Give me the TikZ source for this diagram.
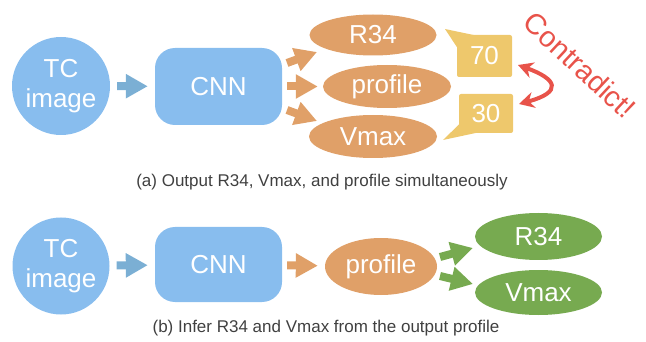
\documentclass[tikz,border=0pt]{standalone}
\usepackage{fontspec}
\setmainfont{Liberation Sans}
\usetikzlibrary{shapes.geometric,arrows.meta,calc}
\definecolor{cblue}{HTML}{88BDEE}
\definecolor{cblueArr}{HTML}{7BAFD4}
\definecolor{corange}{HTML}{E0A068}
\definecolor{cyellow}{HTML}{EEC86C}
\definecolor{cred}{HTML}{E8534A}
\definecolor{cgreen}{HTML}{77AA50}
\definecolor{ccap}{HTML}{404040}
\tikzset{
  big/.style={font=\fontsize{26}{30}\selectfont, text=white},
  tcnode/.style={circle, fill=cblue, minimum size=98pt, inner sep=0pt, big, align=center},
  cnnnode/.style={rectangle, rounded corners=20pt, fill=cblue, minimum width=127pt, minimum height=77pt, inner sep=0pt, big},
  ell/.style={ellipse, inner sep=0pt, big},
  oell/.style={ell, fill=corange},
  gell/.style={ell, fill=cgreen},
  callout/.style={rectangle, rounded corners=2pt, fill=cyellow, inner sep=0pt, big},
  blk/.style={line width=8pt, -{Triangle[length=22pt,width=23pt]}},
  captext/.style={font=\fontsize{17}{20}\selectfont, text=ccap},
}
\begin{document}
\begin{tikzpicture}[x=1pt,y=-1pt]
\useasboundingbox (0,0) rectangle (646,342);
% ---------- (a) ----------
\node[tcnode] (tc1) at (61,86) {TC\\image};
\node[cnnnode] (cnn1) at (218.5,86.5) {CNN};
\node[oell, minimum width=127pt, minimum height=41pt] (r34a) at (373,35) {R34};
\node[oell, minimum width=128pt, minimum height=43pt] (profa) at (387,86.5) {profile};
\node[oell, minimum width=128pt, minimum height=43pt] (vmaxa) at (373,136.5) {Vmax};
\draw[blk, draw=cblueArr, shorten <=7pt, shorten >=7pt] (tc1) -- (cnn1);
\draw[blk, draw=corange, shorten <=5pt, shorten >=5pt] (cnn1) -- (profa);
\coordinate (ua1) at (287,63);
\coordinate (ua2) at (317,52);
\coordinate (la1) at (287,110);
\coordinate (la2) at (317,121);
\draw[blk, draw=corange] (ua1) -- (ua2);
\draw[blk, draw=corange] (la1) -- (la2);
% callouts
\node[callout, minimum width=55pt, minimum height=42pt] (b70) at (484.5,56) {70};
\node[callout, minimum width=54pt, minimum height=39pt] (b30) at (486,113.5) {30};
\fill[cyellow] (445,29) -- (476,35.5) -- (457.5,48) -- cycle;
\fill[cyellow] (443,140) -- (459.5,124) -- (478,132.5) -- cycle;
% contradiction arrow
\coordinate (ra1) at (518,65);
\coordinate (ra2) at (519,104);
\draw[cred, line width=4pt, {Stealth[length=15pt,width=16pt]}-{Stealth[length=15pt,width=16pt]}]
  (ra1) .. controls (557,79) and (563,92) .. (ra2);
\node[text=cred, font=\fontsize{29}{34}\selectfont, rotate=-43] (contra) at (580,65) {Contradict!};
\node[captext] (capa) at (322,182) {(a) Output R34, Vmax, and profile simultaneously};
% ---------- (b) ----------
\node[tcnode, minimum size=97pt] (tc2) at (61,266) {TC\\image};
\node[cnnnode, minimum height=75pt] (cnn2) at (218.5,264.5) {CNN};
\node[oell, minimum width=112pt, minimum height=57pt] (profb) at (381,266.5) {profile};
\node[gell, minimum width=127pt, minimum height=47pt] (r34b) at (538.5,236.5) {R34};
\node[gell, minimum width=127pt, minimum height=45pt] (vmaxb) at (538.5,292.5) {Vmax};
\draw[blk, draw=cblueArr, shorten <=7pt, shorten >=7pt] (tc2) -- (cnn2);
\draw[blk, draw=corange, shorten <=5pt, shorten >=7pt] (cnn2) -- (profb);
\coordinate (gu1) at (440,257);
\coordinate (gu2) at (473,248);
\coordinate (gl1) at (440,276);
\coordinate (gl2) at (473,284);
\draw[blk, draw=cgreen] (gu1) -- (gu2);
\draw[blk, draw=cgreen] (gl1) -- (gl2);
\node[captext] (capb) at (326,328) {(b) Infer R34 and Vmax from the output profile};
\end{tikzpicture}
\end{document}
